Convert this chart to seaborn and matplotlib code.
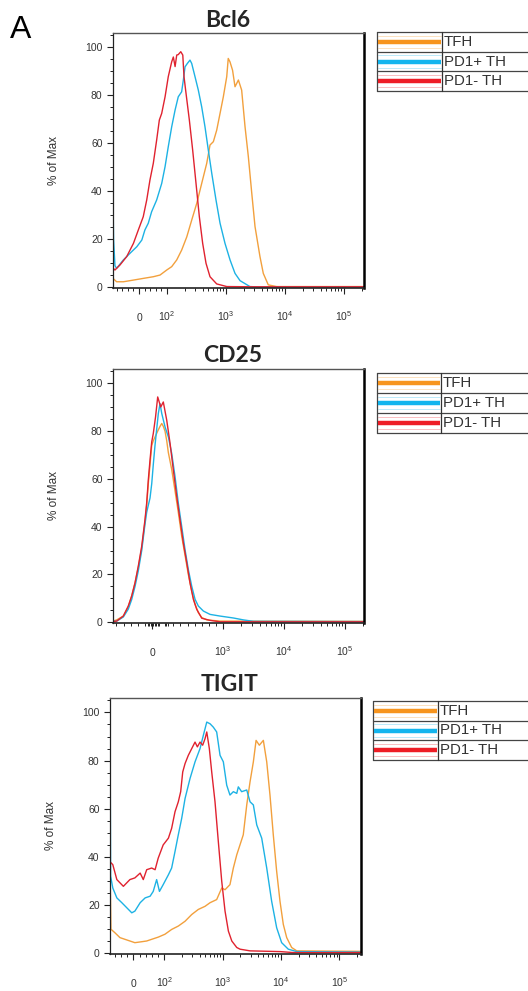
import numpy as np
import pandas as pd
import matplotlib
matplotlib.use('Agg')
import matplotlib.pyplot as plt
import seaborn as sns

# populations / colours
populations = ['TFH', 'PD1+ TH', 'PD1- TH']
line_colors = ['#F2A03D', '#1DB2E4', '#E0222F']
key_colors = ['#F7941D', '#12B5EE', '#EE1C25']
panel_titles = ['Bcl6', 'CD25', 'TIGIT']
y_label = '% of Max'

# Bcl6 histograms (intensity, % of max)
bcl6_tfh_x = [-93, -80, -56, -20, 15, 51, 75, 99, 120, 146, 177, 216, 262, 319, 387, 471, 535, 610, 695, 792,
              900, 1028, 1090, 1166, 1290, 1420, 1620, 1840, 2100, 2390, 2730, 3100, 3760, 4280, 5200, 7210, 20000, 218000]
bcl6_tfh_y = [3.7, 2.3, 2.3, 3.0, 3.7, 4.4, 5.1, 7.2, 8.6, 11.4, 15.5, 21, 28, 35, 43.3, 51.7, 59.3, 60.7, 65.5, 72.5,
              79.4, 87.8, 95.4, 94, 90.5, 83.6, 86.4, 82.2, 66.9, 54.4, 39.2, 25.3, 12.8, 5.8, 1.0, 0.3, 0.3, 0.3]
bcl6_pos_x = [-93, -91, -86, -80, -56, -32, -8, 10, 21, 33, 45, 63, 81, 93, 105, 120, 137, 155, 177, 189,
              202, 221, 245, 262, 298, 339, 387, 440, 501, 573, 676, 792, 961, 1170, 1420, 1730, 2540, 3760, 218000]
bcl6_pos_y = [38, 20, 9, 7.9, 11.4, 14.2, 16.9, 19.7, 23.9, 26.7, 31.5, 36.4, 43.3, 50.3, 58.6, 66.9, 73.9, 79.4, 81.5, 86.4,
              91.9, 93.3, 94.7, 93.3, 87.8, 82.2, 75.2, 66.9, 57.2, 47.5, 36.4, 26.7, 18.3, 11.4, 5.8, 2.75, 0.3, 0.1, 0.1]
bcl6_neg_x = [-93, -86, -68, -44, -20, -2.5, 15, 27.5, 39, 51, 63, 72.5, 81, 93, 105, 120, 128, 137, 146, 155,
              171, 185, 194, 210, 239, 272, 310, 353, 402, 458, 535, 695, 1030, 3000, 218000]
bcl6_neg_y = [8, 7.2, 9.3, 12.8, 18.3, 23.9, 29.4, 36.4, 44.7, 51.7, 61.4, 69.7, 72.5, 79.4, 87.8, 94, 96, 92, 96.8, 97,
              98.2, 96.8, 87.8, 80.8, 69.7, 57.2, 43.3, 29.4, 18.3, 10, 4.4, 1.4, 0.3, 0.2, 0.2]

# CD25 histograms
cd25_tfh_x = [-549, -497, -404, -334, -286, -239, -193, -145, -99, -75, -52, -28, -4, 18, 42, 80, 113, 137, 159, 183,
              207, 230, 277, 324, 370, 418, 465, 511, 559, 606, 652, 700, 770, 958, 204000]
cd25_tfh_y = [0.5, 1, 2.6, 6.5, 11, 16.5, 23, 31, 42, 49, 58, 66, 74, 76, 77.5, 80, 82, 83.2, 82, 80,
              76, 71, 64, 55, 46, 36, 28, 20, 13, 7.5, 4, 2, 1, 0.5, 0.4]
cd25_pos_x = [-549, -497, -404, -334, -286, -239, -193, -145, -99, -75, -52, -28, -4, 18, 42, 89, 113, 137, 183, 230,
              277, 324, 370, 418, 465, 511, 559, 606, 652, 723, 817, 958, 1475, 2150, 3140, 204000]
cd25_pos_y = [0.3, 0.5, 2.2, 5.5, 9.5, 15, 21.5, 30, 41, 46, 49, 52, 58, 66, 74, 87.4, 91.5, 87.4, 81.8, 77.6,
              70.7, 61, 49.9, 40.1, 30.4, 22.1, 15.1, 9.6, 6.8, 4.7, 3.3, 2.6, 1.8, 1, 0.4, 0.3]
cd25_neg_x = [-549, -497, -404, -334, -286, -239, -193, -145, -99, -75, -52, -28, -4, 18, 50, 80, 123, 159, 207, 254,
              300, 348, 394, 441, 489, 535, 582, 630, 700, 817, 958, 204000]
cd25_neg_y = [0.3, 0.5, 2.6, 6.8, 11, 16.5, 23.5, 31.8, 42.9, 49.9, 59.6, 67.9, 75.5, 79, 86, 94.3, 90.1, 92.2, 84.6, 74.9,
              63.8, 52.6, 42.9, 33.2, 24.9, 16.5, 9.6, 5.4, 1.7, 0.8, 0.2, 0.2]

# TIGIT histograms
tigit_tfh_x = [-75, -72, -59, -43, -27, -11, 5, 27, 43, 59, 80, 102, 133, 173, 226, 294, 381, 497, 606, 787,
               961, 1095, 1330, 1520, 1740, 2250, 2580, 2940, 3350, 3730, 4240, 4970, 5680, 6460, 7360, 8410, 9590,
               10930, 12500, 15200, 18600, 235000]
tigit_tfh_y = [36, 10, 8.5, 6.5, 5.8, 5.1, 4.4, 4.8, 5.1, 5.8, 6.7, 7.9, 9.9, 11.3, 13.3, 16.1, 18.2, 19.5, 21, 22.3,
               27.1, 26.4, 28.5, 35.4, 40.9, 49.2, 61.6, 71.2, 79.5, 88.4, 86.4, 88.4, 79.5, 65.7, 49.2, 34, 21.6,
               12, 6.5, 2.4, 1, 0.8]
tigit_pos_x = [-75, -73, -66, -53, -37, -21, -5, 5, 22, 38, 54, 64, 75, 84, 96, 117, 133, 152, 173, 198,
               226, 275, 335, 408, 465, 532, 606, 689, 787, 899, 1024, 1170, 1330, 1520, 1740, 1850, 2110, 2580, 2940,
               3350, 3830, 4660, 5680, 6900, 8410, 10240, 13300, 18600, 235000]
tigit_pos_y = [103, 32, 27.1, 23, 21, 18.9, 16.8, 17.5, 21, 23, 23.7, 25.7, 30.6, 25.7, 28.5, 32.6, 35.4, 42.3, 49.2, 56.1,
               64.3, 72.6, 79.5, 85, 90.5, 96, 95.3, 93.9, 91.9, 82.2, 79.5, 69.8, 65.7, 67.1, 66.4, 69.1, 67.1, 67.8, 62.9,
               61.6, 53.3, 47.8, 35.4, 21.6, 10.6, 4.4, 1.7, 0.7, 0.5]
tigit_neg_x = [-75, -66, -53, -32, -11, 5, 22, 32, 43, 59, 70, 80, 96, 117, 133, 152, 173, 190, 206, 226,
               257, 294, 335, 367, 408, 453, 497, 532, 589, 647, 737, 840, 961, 1095, 1250, 1430, 1740, 1980, 2940,
               9590, 16200, 235000]
tigit_neg_y = [38, 36.8, 30.6, 27.8, 30.6, 31.3, 33.3, 30.6, 34.7, 35.4, 34.7, 39.5, 45, 47.8, 51.9, 58.8, 62.9, 67.1, 75.3, 78.8,
               82.2, 85, 87.7, 85.7, 87.7, 86.4, 89.1, 91.9, 85, 75.3, 62.9, 46.4, 29.9, 17.5, 9.2, 5.1, 2.4, 1.7, 1,
               0.7, 0.3, 0.3]

curves = [
    ('Bcl6', 'TFH', bcl6_tfh_x, bcl6_tfh_y), ('Bcl6', 'PD1+ TH', bcl6_pos_x, bcl6_pos_y), ('Bcl6', 'PD1- TH', bcl6_neg_x, bcl6_neg_y),
    ('CD25', 'TFH', cd25_tfh_x, cd25_tfh_y), ('CD25', 'PD1+ TH', cd25_pos_x, cd25_pos_y), ('CD25', 'PD1- TH', cd25_neg_x, cd25_neg_y),
    ('TIGIT', 'TFH', tigit_tfh_x, tigit_tfh_y), ('TIGIT', 'PD1+ TH', tigit_pos_x, tigit_pos_y), ('TIGIT', 'PD1- TH', tigit_neg_x, tigit_neg_y),
]
df = pd.concat([pd.DataFrame({'marker': m, 'population': p, 'intensity': xs, 'pct': ys}) for m, p, xs, ys in curves],
               ignore_index=True)

# x tick labels per panel
bcl6_ticks = [0, 1e2, 1e3, 1e4, 1e5]
bcl6_ticklabels = ['0', r'$\mathregular{10^2}$', r'$\mathregular{10^3}$', r'$\mathregular{10^4}$', r'$\mathregular{10^5}$']
cd25_ticks = [0, 1e3, 1e4, 1e5]
cd25_ticklabels = ['0', r'$\mathregular{10^3}$', r'$\mathregular{10^4}$', r'$\mathregular{10^5}$']
tigit_ticks = bcl6_ticks
tigit_ticklabels = bcl6_ticklabels

log_minor = [k * 10 ** e for e in (2, 3, 4) for k in range(2, 10)] + [2e5]

sns.set_theme(style='ticks')
plt.rcParams['font.family'] = ['Liberation Sans', 'DejaVu Sans']
plt.rcParams['mathtext.fontset'] = 'custom'
plt.rcParams['mathtext.rm'] = 'Liberation Sans'

W, H = 528, 991
fig = plt.figure(figsize=(W / 100, H / 100), dpi=100)

def rect(l, t, r, b):
    return [l / W, 1 - b / H, (r - l) / W, (b - t) / H]

panels = [
    dict(name='Bcl6', box=(113, 33, 364, 288), thr=100, scale=0.427, xlim=(-93, 218000),
         ticks=bcl6_ticks, labels=bcl6_ticklabels, minor=[-80, -60, -40, -20, 20, 40, 60, 80] + log_minor,
         tx=0.458, tpad=4, key=(377, 32, 91, 442)),
    dict(name='CD25', box=(113, 369, 364, 623), thr=1000, scale=1.048, xlim=(-549, 204000),
         ticks=cd25_ticks, labels=cd25_ticklabels,
         minor=[-500, -400, -300, -200, -100, -60, -40, -20, 20, 40, 60, 80, 100, 180, 200, 220, 300, 400, 500, 600, 700, 800, 900]
               + [k * 10 ** e for e in (3, 4) for k in range(2, 10)] + [2e5],
         tx=0.478, tpad=5, key=(377, 373, 433, 441)),
    dict(name='TIGIT', box=(110, 698, 361, 954), thr=100, scale=0.48, xlim=(-75, 235000),
         ticks=tigit_ticks, labels=tigit_ticklabels, minor=[-60, -40, -20, 20, 40, 60, 80] + log_minor,
         tx=0.478, tpad=5, key=(373, 701, 760, 438)),
]

for p in panels:
    l, t, r, b = p['box']
    ax = fig.add_axes(rect(l, t, r, b))
    sub = df[df['marker'] == p['name']]
    sns.lineplot(data=sub, x='intensity', y='pct', hue='population', hue_order=populations,
                 palette=line_colors, estimator=None, sort=False, legend=False, lw=1.0, ax=ax)
    ax.set_xscale('symlog', linthresh=p['thr'], linscale=p['scale'])
    ax.set_xlim(*p['xlim'])
    ax.set_ylim(-0.3, 106)
    ax.set_yticks(range(0, 101, 20))
    ax.set_yticks(range(0, 106, 5), minor=True)
    ax.set_xticks(p['ticks'], p['labels'])
    ax.set_xticks(p['minor'], minor=True)
    ax.set_xlabel('')
    ax.set_ylabel(y_label, fontsize=8.5, color='#333333')
    ax.yaxis.set_label_coords(-0.21, 0.5)
    ax.tick_params(which='major', length=4.5, width=0.8, color='#222222', labelsize=7.5, labelcolor='#333333')
    ax.tick_params(which='minor', length=2.4, width=0.7, color='#222222')
    ax.tick_params(axis='y', pad=3)
    ax.tick_params(axis='x', pad=19)
    for lbl in ax.get_xticklabels():
        lbl.set_verticalalignment('baseline')
    ax.spines['top'].set_color('#555555')
    ax.spines['top'].set_linewidth(1.0)
    ax.spines['right'].set_color('black')
    ax.spines['right'].set_linewidth(1.8)
    ax.spines['left'].set_color('#222222')
    ax.spines['left'].set_linewidth(0.9)
    ax.spines['bottom'].set_color('#222222')
    ax.spines['bottom'].set_linewidth(1.2)
    ax.set_title(p['name'], x=p['tx'], pad=p['tpad'], fontsize=16.5, fontweight='bold', family=['Lato', 'DejaVu Sans'])

    # key table
    kl, kt, kb, kd = p['key']
    kax = fig.add_axes(rect(kl, kt, kl + 170, kb))
    kax.set_xlim(0, 170)
    kax.set_ylim(0, 3)
    kax.axis('off')
    dv = kd - kl
    for yy in (0, 1, 2, 3):
        kax.plot([0, 170], [yy, yy], color='#444444', lw=0.9, clip_on=False)
    kax.plot([0, 0], [0, 3], color='#444444', lw=0.9, clip_on=False)
    kax.plot([dv, dv], [0, 3], color='#333333', lw=0.9, clip_on=False)
    for i, (lab, col) in enumerate(zip(populations, key_colors)):
        yc = 2.5 - i
        kax.plot([1, dv - 1], [yc + 0.32, yc + 0.32], color=col, lw=0.5, alpha=0.4)
        kax.plot([1, dv - 1], [yc - 0.32, yc - 0.32], color=col, lw=0.5, alpha=0.4)
        kax.plot([1, dv - 1], [yc, yc], color=col, lw=3.2, solid_capstyle='butt')
        kax.text(dv + 2, yc, lab, va='center', ha='left', fontsize=10.8, color='#333333')

fig.text(10 / W, 1 - 38 / H, 'A', fontsize=23, color='black', va='baseline', ha='left')

fig.savefig('out.png', dpi=100)
